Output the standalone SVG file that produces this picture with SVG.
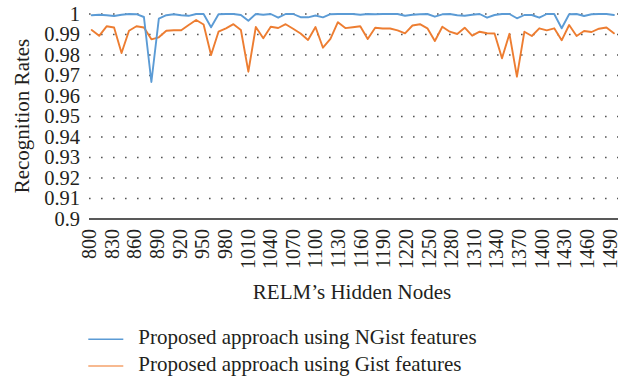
<svg xmlns="http://www.w3.org/2000/svg" width="619" height="381" viewBox="0 0 619 381" font-family="'Liberation Serif', 'Times New Roman', serif">
<style>
text{font-family:"Liberation Serif","Times New Roman",serif;fill:#231f20}
.yl{font-size:20.5px;text-anchor:end}
.xl{font-size:20px;text-anchor:end}
.grid{fill:none;stroke:#555;stroke-width:1.6;stroke-dasharray:1.6 10.4}
.ser{fill:none;stroke-width:1.9;stroke-linejoin:round;stroke-linecap:round}
.blue{stroke:#5b9bd5}
.orange{stroke:#ed7d31}
</style>
<rect width="619" height="381" fill="#fff"/>
<g id="gridlines">
<path class="grid" d="M89 14H618M89 34.5H618M89 55H618M89 75.5H618M89 96H618M89 116.5H618M89 137H618M89 157.5H618M89 178H618M89 198.5H618"/>
</g>
<g id="y-axis" font-family="'Liberation Serif', 'Times New Roman', serif">
<text class="yl" x="80" y="20.8">1</text>
<text class="yl" x="80" y="41.3">0.99</text>
<text class="yl" x="80" y="61.8">0.98</text>
<text class="yl" x="80" y="82.3">0.97</text>
<text class="yl" x="80" y="102.8">0.96</text>
<text class="yl" x="80" y="123.3">0.95</text>
<text class="yl" x="80" y="143.8">0.94</text>
<text class="yl" x="80" y="164.3">0.93</text>
<text class="yl" x="80" y="184.8">0.92</text>
<text class="yl" x="80" y="205.3">0.91</text>
<text class="yl" x="80" y="225.8">0.9</text>
<text font-size="21" text-anchor="middle" transform="translate(28.5 116) rotate(-90)">Recognition Rates</text>
</g>
<g id="x-axis" font-family="'Liberation Serif', 'Times New Roman', serif">
<line x1="89" y1="219" x2="618" y2="219" stroke="#222" stroke-width="1.5"/>
<text class="xl" transform="translate(96.2 229) rotate(-90)">800</text>
<text class="xl" transform="translate(118.8 229) rotate(-90)">830</text>
<text class="xl" transform="translate(141.4 229) rotate(-90)">860</text>
<text class="xl" transform="translate(164.1 229) rotate(-90)">890</text>
<text class="xl" transform="translate(186.7 229) rotate(-90)">920</text>
<text class="xl" transform="translate(209.3 229) rotate(-90)">950</text>
<text class="xl" transform="translate(232 229) rotate(-90)">980</text>
<text class="xl" transform="translate(254.6 229) rotate(-90)">1010</text>
<text class="xl" transform="translate(277.2 229) rotate(-90)">1040</text>
<text class="xl" transform="translate(299.8 229) rotate(-90)">1070</text>
<text class="xl" transform="translate(322.4 229) rotate(-90)">1100</text>
<text class="xl" transform="translate(345.1 229) rotate(-90)">1130</text>
<text class="xl" transform="translate(367.7 229) rotate(-90)">1160</text>
<text class="xl" transform="translate(390.3 229) rotate(-90)">1190</text>
<text class="xl" transform="translate(412.9 229) rotate(-90)">1220</text>
<text class="xl" transform="translate(435.5 229) rotate(-90)">1250</text>
<text class="xl" transform="translate(458.1 229) rotate(-90)">1280</text>
<text class="xl" transform="translate(480.8 229) rotate(-90)">1310</text>
<text class="xl" transform="translate(503.4 229) rotate(-90)">1340</text>
<text class="xl" transform="translate(526 229) rotate(-90)">1370</text>
<text class="xl" transform="translate(548.6 229) rotate(-90)">1400</text>
<text class="xl" transform="translate(571.2 229) rotate(-90)">1430</text>
<text class="xl" transform="translate(593.9 229) rotate(-90)">1460</text>
<text class="xl" transform="translate(616.5 229) rotate(-90)">1490</text>
<text font-size="21" text-anchor="middle" x="352" y="298.5">RELM’s Hidden Nodes</text>
</g>
<g id="series">
<polyline id="gist" class="ser orange" points="91.7,30 99.16,35.8 106.62,26.3 114.08,27.5 121.54,53 129,30.8 136.46,26.3 143.92,27.5 151.38,39.3 158.84,37.3 166.3,30.8 173.76,30.3 181.22,30.3 188.68,25 196.14,20 203.6,24.5 211.06,55 218.52,31.7 225.98,28.3 233.44,24.2 240.9,30 248.36,71.7 255.82,27 263.28,38.3 270.74,26.7 278.2,28 285.66,24.2 293.12,28.7 300.58,33.5 308.04,40 315.5,27 322.96,47.7 330.42,38.8 337.88,22.2 345.34,28.1 352.8,27.2 360.26,26.3 367.72,39 375.18,27.7 382.64,28.5 390.1,28.5 397.56,30.3 405.02,33.3 412.48,25.5 419.94,24.2 427.4,28.3 434.86,41 442.32,26.7 449.78,31.7 457.24,34 464.7,27.7 472.16,35.7 479.62,31.7 487.08,33.3 494.54,33.5 502,58.3 509.46,33.8 516.92,76.7 524.38,31.7 531.84,36 539.3,28.3 546.76,30.3 554.22,28.3 561.68,40.3 569.14,25 576.6,36 584.06,31 591.52,32 598.98,28.7 606.44,27.5 613.9,33.3"/>
<polyline id="ngist" class="ser blue" points="91.7,15.2 99.16,14.8 106.62,15.2 114.08,16 121.54,14.7 129,14 136.46,14.2 143.92,17 151.38,82 158.84,18.7 166.3,15.2 173.76,14.3 181.22,15.2 188.68,15.8 196.14,14 203.6,14 211.06,27.3 218.52,14.3 225.98,14 233.44,14 240.9,15 248.36,20.8 255.82,14 263.28,14.7 270.74,14 278.2,17.7 285.66,14 293.12,14 300.58,17.2 308.04,17.3 315.5,15.5 322.96,17.3 330.42,14.2 337.88,14 345.34,14 352.8,14 360.26,14.7 367.72,14 375.18,14.3 382.64,14 390.1,14 397.56,14 405.02,15.7 412.48,14.7 419.94,14.3 427.4,14 434.86,16.7 442.32,14.3 449.78,14 457.24,15.3 464.7,15.7 472.16,14.7 479.62,14 487.08,17.7 494.54,15 502,14 509.46,14 516.92,18.3 524.38,15 531.84,15 539.3,17.7 546.76,14 554.22,14 561.68,28.3 569.14,14.3 576.6,14 584.06,16 591.52,14.3 598.98,14 606.44,14 613.9,15"/>
</g>
<g id="legend" font-family="'Liberation Serif', 'Times New Roman', serif">
<line x1="88.3" y1="339.3" x2="123.3" y2="339.3" stroke="#5b9bd5" stroke-width="1.5"/>
<text font-size="21" x="138.3" y="344.3">Proposed approach using NGist features</text>
<line x1="88.3" y1="366" x2="123.3" y2="366" stroke="#f4a26b" stroke-width="1.5"/>
<text font-size="21" x="138.3" y="371">Proposed approach using Gist features</text>
</g>
</svg>
